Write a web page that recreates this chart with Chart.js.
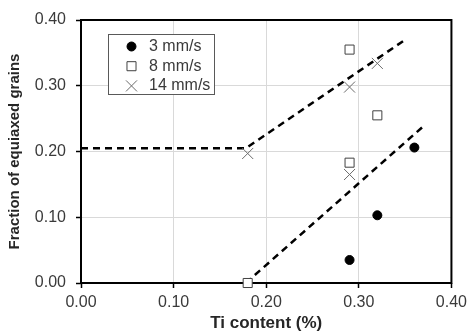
<!DOCTYPE html>
<html>
<head>
<meta charset="utf-8">
<script src="https://cdn.jsdelivr.net/npm/chart.js@4.4.1/dist/chart.umd.min.js"></script>
<style>
  html, body { margin: 0; padding: 0; background: #ffffff; }
  #wrap { width: 472px; height: 334px; }
</style>
</head>
<body>
<div id="wrap"><canvas id="grainChart" width="472" height="334"></canvas></div>
<script>
// measured points, Ti content (%) vs fraction of equiaxed grains
const tiContent3 = [0.29, 0.32, 0.36];
const fraction3 = [0.035, 0.103, 0.206];
const tiContent8 = [0.29, 0.32, 0.29, 0.18];
const fraction8 = [0.355, 0.255, 0.183, 0.0];
const tiContent14 = [0.32, 0.29, 0.18, 0.29];
const fraction14 = [0.334, 0.298, 0.197, 0.165];

// dashed guide lines
const upperTrendX = [0, 0.178, 0.35];
const upperTrendY = [0.205, 0.205, 0.37];
const lowerTrendX = [0.178, 0.371];
const lowerTrendY = [0, 0.24];

const xTicks = [0, 0.1, 0.2, 0.3, 0.4];
const yTicks = [0, 0.1, 0.2, 0.3, 0.4];

const fontFamily = "'Liberation Sans', Arial, sans-serif";
const tickColor = "#3a3a3a";
const titleColor = "#262626";

function toPoints(xs, ys) {
  return xs.map((x, i) => ({ x, y: ys[i] }));
}

const plotFrame = {
  id: "plotFrame",
  beforeDatasetsDraw(chart) {
    const { ctx, chartArea: a } = chart;
    ctx.save();
    ctx.strokeStyle = "#000000";
    ctx.lineWidth = 2;
    ctx.strokeRect(a.left, a.top, a.right - a.left, a.bottom - a.top);
    ctx.restore();
  }
};

const insideLegend = {
  id: "insideLegend",
  afterDraw(chart) {
    const { ctx } = chart;
    const entries = chart.data.datasets.filter(ds => ds.inLegend);
    const box = { x: 108.5, y: 34.5, w: 106, h: 60 };
    ctx.save();
    ctx.fillStyle = "#ffffff";
    ctx.fillRect(box.x, box.y, box.w, box.h);
    ctx.strokeStyle = "#595959";
    ctx.lineWidth = 1;
    ctx.strokeRect(box.x, box.y, box.w, box.h);

    ctx.font = `16px ${fontFamily}`;
    ctx.textAlign = "left";
    ctx.textBaseline = "middle";
    entries.forEach((ds, i) => {
      const y = 46.5 + i * 19.7;
      ctx.fillStyle = ds.backgroundColor;
      ctx.strokeStyle = ds.borderColor;
      ctx.lineWidth = ds.pointBorderWidth;
      Chart.helpers.drawPoint(ctx, {
        pointStyle: ds.pointStyle,
        radius: ds.pointRadius,
        rotation: 0,
        borderWidth: ds.pointBorderWidth
      }, 131.5, y);
      ctx.fillStyle = tickColor;
      ctx.fillText(ds.label, 149, y);
    });
    ctx.restore();
  }
};

new Chart(document.getElementById("grainChart").getContext("2d"), {
  type: "scatter",
  data: {
    datasets: [
      {
        label: "3 mm/s",
        inLegend: true,
        data: toPoints(tiContent3, fraction3),
        pointStyle: "circle",
        pointRadius: 4.5,
        pointBorderWidth: 1,
        backgroundColor: "#000000",
        borderColor: "#000000",
        clip: false
      },
      {
        label: "8 mm/s",
        inLegend: true,
        data: toPoints(tiContent8, fraction8),
        pointStyle: "rect",
        pointRadius: 6.4,
        pointBorderWidth: 1,
        backgroundColor: "#ffffff",
        borderColor: "#404040",
        clip: false
      },
      {
        label: "14 mm/s",
        inLegend: true,
        data: toPoints(tiContent14, fraction14),
        pointStyle: "crossRot",
        pointRadius: 7.8,
        pointBorderWidth: 1,
        backgroundColor: "#6b6b6b",
        borderColor: "#6b6b6b",
        clip: false
      },
      {
        label: "upper trend",
        data: toPoints(upperTrendX, upperTrendY),
        showLine: true,
        pointRadius: 0,
        borderColor: "#000000",
        borderWidth: 2.5,
        borderDash: [7, 5],
        tension: 0,
        fill: false,
        clip: false
      },
      {
        label: "lower trend",
        data: toPoints(lowerTrendX, lowerTrendY),
        showLine: true,
        pointRadius: 0,
        borderColor: "#000000",
        borderWidth: 2.5,
        borderDash: [7, 5],
        tension: 0,
        fill: false,
        clip: false
      }
    ]
  },
  plugins: [plotFrame, insideLegend],
  options: {
    responsive: false,
    animation: false,
    layout: { padding: { top: 20, right: 20, bottom: 0, left: 0 } },
    plugins: {
      legend: { display: false },
      tooltip: { enabled: false }
    },
    scales: {
      x: {
        type: "linear",
        min: 0,
        max: 0.4,
        afterBuildTicks: scale => { scale.ticks = xTicks.map(value => ({ value })); },
        afterFit: scale => { scale.height = 51; },
        border: { display: false },
        grid: { color: "#d9d9d9", lineWidth: 1, tickLength: 5, tickColor: "#000000", tickWidth: 1.5 },
        ticks: {
          color: tickColor,
          padding: 5,
          maxRotation: 0,
          autoSkip: false,
          font: { family: fontFamily, size: 16 },
          callback: value => Number(value).toFixed(2)
        },
        title: {
          display: true,
          text: "Ti content (%)",
          color: titleColor,
          padding: { top: 0, bottom: 0 },
          font: { family: fontFamily, size: 17, weight: "bold" }
        }
      },
      y: {
        type: "linear",
        min: 0,
        max: 0.4,
        afterBuildTicks: scale => { scale.ticks = yTicks.map(value => ({ value })); },
        afterFit: scale => { scale.width = 81; },
        border: { display: false },
        grid: { color: "#d9d9d9", lineWidth: 1, tickLength: 5, tickColor: "#000000", tickWidth: 1.5 },
        ticks: {
          color: tickColor,
          padding: 10,
          autoSkip: false,
          font: { family: fontFamily, size: 16 },
          callback: value => Number(value).toFixed(2)
        },
        title: {
          display: true,
          text: "Fraction of equiaxed grains",
          color: titleColor,
          padding: { top: 6, bottom: 0 },
          font: { family: fontFamily, size: 15, weight: "bold" }
        }
      }
    }
  }
});
</script>
</body>
</html>
